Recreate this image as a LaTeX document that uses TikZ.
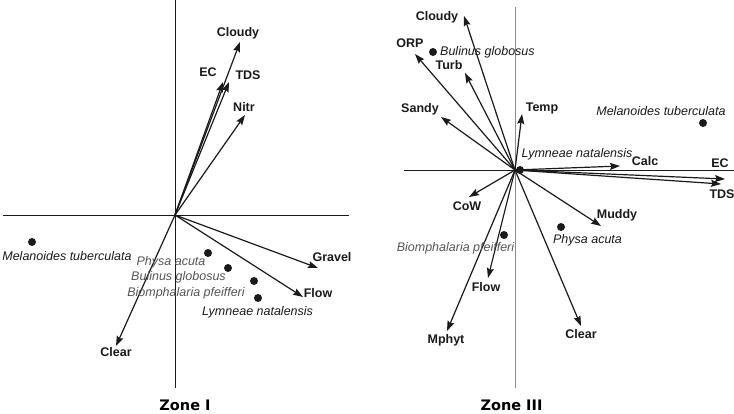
\documentclass[tikz,border=0pt]{standalone}
\usepackage{fontspec}
\setmainfont{Liberation Sans}
\newfontfamily\titlefont{DejaVu Sans}
\usetikzlibrary{arrows.meta}
\definecolor{ink}{HTML}{1A1A1A}
\definecolor{softink}{HTML}{555555}
\tikzset{
  vec/.style={line width=1.2pt, draw=ink, -{Stealth[length=10pt,width=7pt,inset=1.5pt]}},
  axis/.style={line width=0.9pt, draw=ink},
  axisgray/.style={line width=1pt, draw=black!45},
  var/.style={font=\fontsize{12.5}{14}\selectfont\bfseries, text=ink, inner sep=0pt},
  sp/.style={font=\fontsize{12.5}{14}\selectfont\itshape, text=ink, inner sep=0pt},
  spg/.style={font=\fontsize{12.5}{14}\selectfont\itshape, text=softink, inner sep=0pt},
  dot/.style={circle, fill=ink, inner sep=0pt, minimum size=8pt},
  ttl/.style={font=\titlefont\fontsize{14.5}{16}\selectfont\bfseries, text=black, inner sep=0pt, anchor=base}
}
\begin{document}
\begin{tikzpicture}[x=1pt,y=-1pt]
\useasboundingbox (0,0) rectangle (734,413);
% ---------------- Zone I ----------------
\coordinate (aT1) at (175,0);
\coordinate (aB1) at (175,388);
\coordinate (aL1) at (3,215);
\coordinate (aR1) at (349,215);
\draw[axis] (aT1) -- (aB1);
\draw[axis] (aL1) -- (aR1);
\coordinate (o1) at (175,215);
\coordinate (tCloudy1) at (240,42);
\coordinate (tEC1) at (223,82);
\coordinate (tTDS1) at (229,82);
\coordinate (tNitr1) at (245,115);
\coordinate (tGravel1) at (318,268);
\coordinate (tFlow1) at (303,297);
\coordinate (tClear1) at (116,346);
\draw[vec] (o1) -- (tCloudy1);
\draw[vec] (o1) -- (tEC1);
\draw[vec] (o1) -- (tTDS1);
\draw[vec] (o1) -- (tNitr1);
\draw[vec] (o1) -- (tGravel1);
\draw[vec] (o1) -- (tFlow1);
\draw[vec] (o1) -- (tClear1);
\node[var] (lCloudy1) at (238,33) {Cloudy};
\node[var] (lEC1) at (208,72) {EC};
\node[var] (lTDS1) at (248,75) {TDS};
\node[var] (lNitr1) at (244,107) {Nitr};
\node[var] (lGravel1) at (332,257) {Gravel};
\node[var] (lFlow1) at (318,293) {Flow};
\node[var] (lClear1) at (116,352) {Clear};
\node[dot] (dMel1) at (32,242) {};
\node[dot] (dPhy1) at (208,253) {};
\node[dot] (dBul1) at (228,268) {};
\node[dot] (dBio1) at (254,281) {};
\node[dot] (dLym1) at (258,298) {};
\node[sp] (sMel1) at (67,256) {Melanoides tuberculata};
\node[spg] (sPhy1) at (171,262) {Physa acuta};
\node[spg] (sBul1) at (178.5,277) {Bulinus globosus};
\node[spg] (sBio1) at (186,293) {Biomphalaria pfeifferi};
\node[sp] (sLym1) at (257.5,312) {Lymneae natalensis};
\node[ttl] (zone1) at (185,410) {Zone I};
% ---------------- Zone III ----------------
\coordinate (aT3) at (515,7);
\coordinate (aB3) at (515,388);
\coordinate (aL3) at (404,170);
\coordinate (aR3) at (734,170);
\draw[axisgray] (aT3) -- (aB3);
\draw[axis] (aL3) -- (aR3);
\coordinate (o3) at (515,170);
\coordinate (tCloudy3) at (464,16);
\coordinate (tORP3) at (415,54);
\coordinate (tTurb3) at (465,73);
\coordinate (tSandy3) at (441,117);
\coordinate (tTemp3) at (522,114);
\coordinate (tCalc3) at (620,166);
\coordinate (tEC3) at (725,179);
\coordinate (tTDS3) at (721,184);
\coordinate (tMuddy3) at (601,226);
\coordinate (tClear3) at (581,326);
\coordinate (tMphyt3) at (447,331);
\coordinate (tFlow3) at (488,278);
\coordinate (tCoW3) at (469,197);
\draw[vec] (o3) -- (tCloudy3);
\draw[vec] (o3) -- (tORP3);
\draw[vec] (o3) -- (tTurb3);
\draw[vec] (o3) -- (tSandy3);
\draw[vec] (o3) -- (tTemp3);
\draw[vec] (o3) -- (tCalc3);
\draw[vec] (o3) -- (tEC3);
\draw[vec] (o3) -- (tTDS3);
\draw[vec] (o3) -- (tMuddy3);
\draw[vec] (o3) -- (tClear3);
\draw[vec] (o3) -- (tMphyt3);
\draw[vec] (o3) -- (tFlow3);
\draw[vec] (o3) -- (tCoW3);
\node[var] (lCloudy3) at (437,17) {Cloudy};
\node[var] (lORP3) at (410,43) {ORP};
\node[var] (lTurb3) at (449,65) {Turb};
\node[var] (lSandy3) at (420,109) {Sandy};
\node[var] (lTemp3) at (542,108) {Temp};
\node[var] (lCalc3) at (645,161) {Calc};
\node[var] (lEC3) at (720,163) {EC};
\node[var] (lTDS3) at (722,194) {TDS};
\node[var] (lMuddy3) at (617,215) {Muddy};
\node[var] (lClear3) at (581,334) {Clear};
\node[var] (lMphyt3) at (446,340) {Mphyt};
\node[var] (lFlow3) at (486,287) {Flow};
\node[var] (lCoW3) at (467,206) {CoW};
\node[dot] (dBul3) at (433,52) {};
\node[dot] (dMel3) at (703,123) {};
\node[dot] (dLym3) at (520,170) {};
\node[dot] (dPhy3) at (561,227) {};
\node[dot] (dBio3) at (504,235) {};
\node[sp, anchor=west] (sBul3) at (440,52) {Bulinus globosus};
\node[sp] (sMel3) at (661,111) {Melanoides tuberculata};
\node[sp] (sLym3) at (577,154) {Lymneae natalensis};
\node[sp] (sPhy3) at (587.5,240) {Physa acuta};
\node[spg] (sBio3) at (455.5,248) {Biomphalaria pfeifferi};
\node[ttl] (zone3) at (511.5,410) {Zone III};
\end{tikzpicture}
\end{document}
